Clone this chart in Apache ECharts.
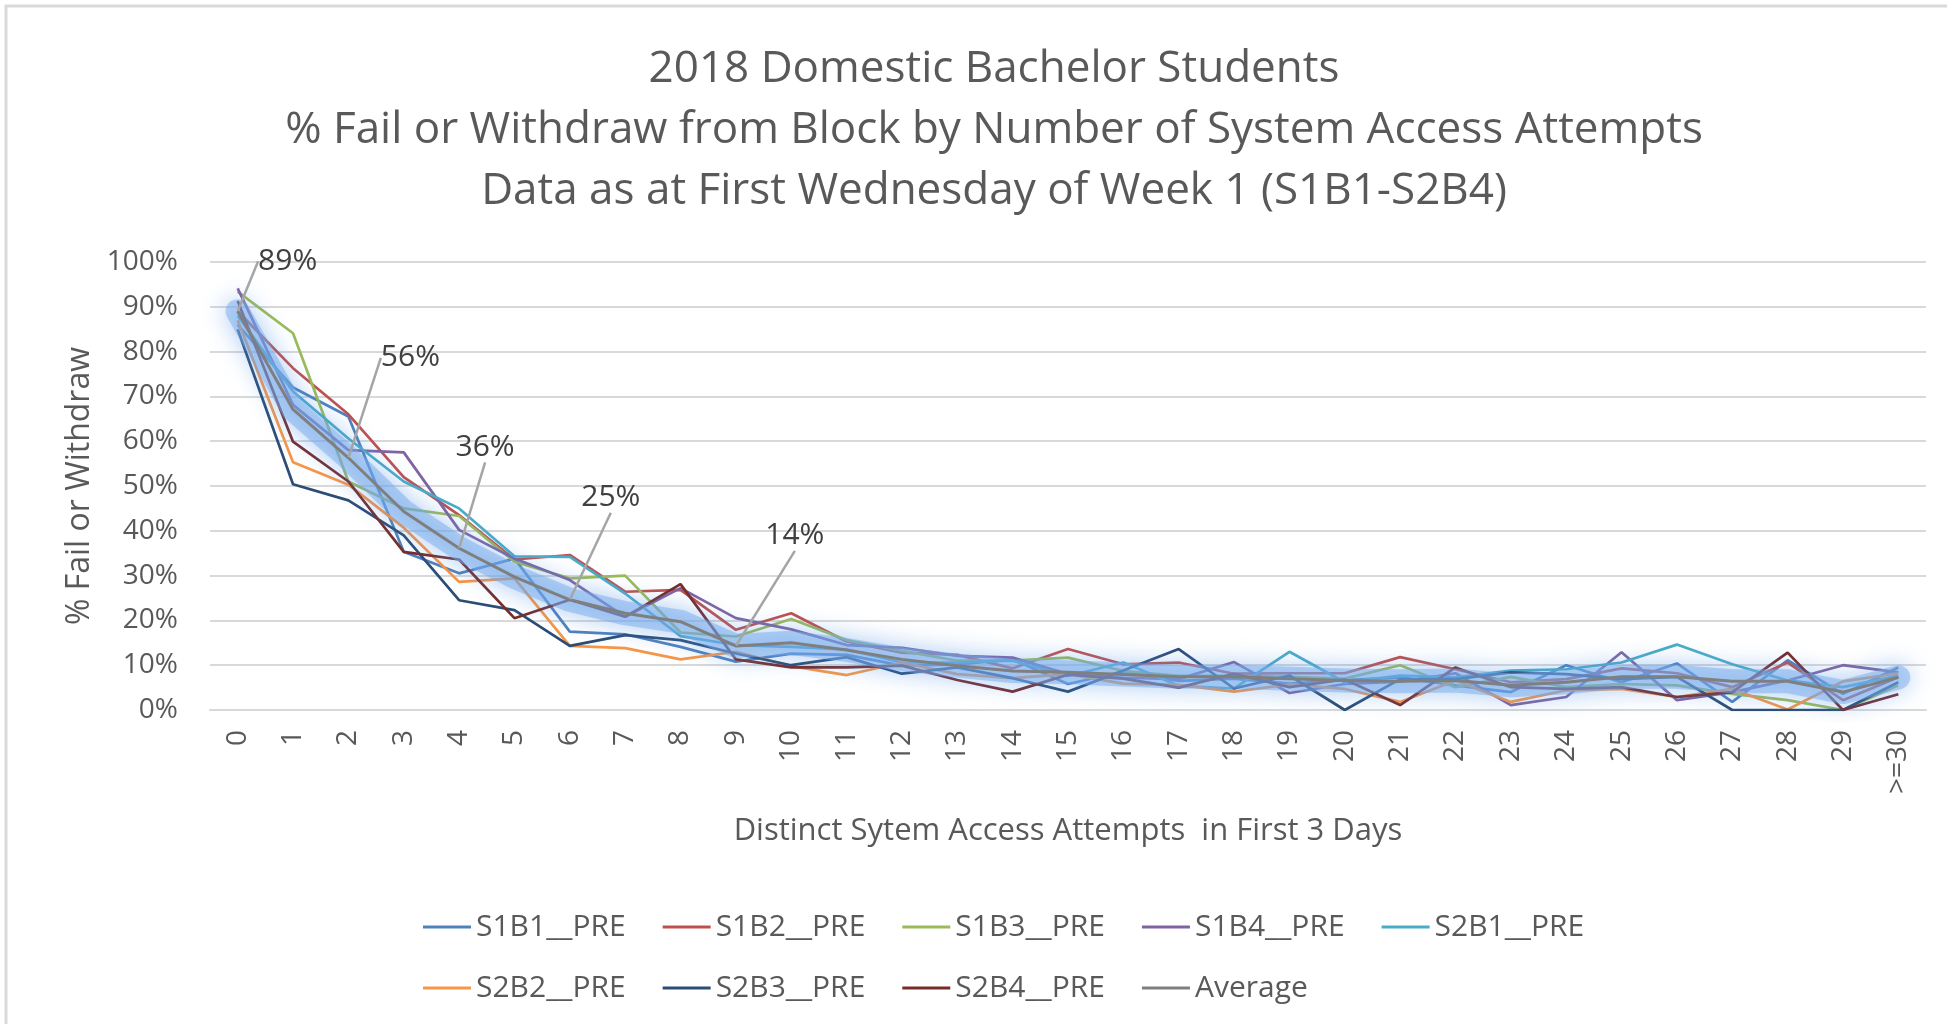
<!DOCTYPE html>
<html>
<head>
<meta charset="utf-8">
<script src="https://cdn.jsdelivr.net/npm/echarts@6/dist/echarts.min.js"></script>
<style>
  html, body { margin: 0; padding: 0; background: #fff; }
  #chart { width: 1947px; height: 1024px; }
</style>
</head>
<body>
<div id="chart"></div>
<script>
// Datos del gráfico
const categorias = ['0','1','2','3','4','5','6','7','8','9','10','11','12','13','14','15',
  '16','17','18','19','20','21','22','23','24','25','26','27','28','29','>=30'];
const yTicks = [0, 10, 20, 30, 40, 50, 60, 70, 80, 90, 100];

const s1b1 = [86, 72, 65.5, 35.3, 30.5, 33.8, 17.5, 16.9, 14.1, 10.8, 12.6, 12.3, 9.9, 10.2, 11.3, 5.8, 8.6, 6.5, 7.0, 5.9, 6.7, 7.3, 5.5, 4.0, 10.0, 6.2, 10.4, 1.8, 11.1, 3.6, 9.5];
const s1b2 = [89, 76.3, 66, 52, 43.5, 33.6, 34.6, 26.4, 26.8, 17.9, 21.6, 15.3, 12.8, 12.3, 9.3, 13.6, 10.2, 10.6, 8.1, 8.2, 8.2, 11.8, 9.1, 6.2, 6.9, 9.3, 8.2, 5.1, 10.6, 2.2, 7.3];
const s1b3 = [93.4, 84.1, 51, 45, 43.3, 33.1, 29.4, 30, 17.3, 16.4, 20.3, 15.6, 13.2, 11, 11, 11.7, 8.7, 7.6, 7.6, 7.4, 7.0, 10.0, 5.1, 7.4, 5.1, 5.8, 5.5, 3.6, 2.2, 0, 5.5];
const s1b4 = [94.1, 68.1, 58, 57.5, 40.2, 33.8, 29, 20.8, 27.2, 20.5, 18, 14.5, 13.9, 12.1, 11.7, 8.0, 7.2, 6.9, 10.7, 3.8, 5.8, 6.3, 8.2, 1.1, 2.9, 12.9, 2.2, 4.0, 6.6, 10.0, 8.4];
const s2b1 = [88, 71.1, 60.6, 51, 45, 34.3, 34.2, 26, 16.5, 14.5, 14.1, 13.5, 10.6, 10.6, 11.0, 7.6, 10.6, 5.4, 4.8, 13.0, 6.2, 7.7, 7.3, 8.8, 9.1, 10.6, 14.6, 10.2, 6.6, 5.1, 7.7];
const s2b2 = [87, 55.3, 50.3, 40.7, 28.6, 29.4, 14.3, 13.8, 11.3, 13.0, 9.8, 7.8, 10.6, 8.0, 7.1, 8.0, 5.9, 5.6, 4.1, 5.7, 4.7, 1.8, 6.6, 1.8, 4.4, 4.7, 2.9, 4.7, 0.1, 6.4, 8.2];
const s2b3 = [85, 50.4, 46.8, 39, 24.5, 22.3, 14.3, 16.7, 15.6, 12.6, 10.0, 11.8, 8.1, 9.5, 7.1, 4.1, 8.8, 13.6, 4.8, 7.7, 0, 6.9, 6.9, 8.4, 8.0, 6.9, 7.4, 0, 0, 0, 6.2];
const s2b4 = [91.3, 59.9, 51, 35.3, 33.6, 20.5, 24.6, 20.8, 28.1, 11.3, 9.5, 9.5, 9.9, 6.7, 4.1, 7.9, 7.0, 5.0, 8.1, 5.1, 6.8, 1.1, 9.5, 5.1, 4.7, 5.1, 2.9, 4.0, 12.8, 0, 3.5];
const promedio = [89, 67.1, 56.3, 44.3, 36.1, 29.7, 24.6, 21.6, 19.7, 14.3, 15.0, 13.4, 11.3, 9.9, 8.7, 8.4, 7.9, 7.4, 7.4, 7.0, 6.6, 6.4, 6.6, 5.5, 6.2, 7.4, 7.4, 6.4, 6.4, 4.0, 7.3];

const nombres = ['S1B1__PRE', 'S1B2__PRE', 'S1B3__PRE', 'S1B4__PRE', 'S2B1__PRE',
  'S2B2__PRE', 'S2B3__PRE', 'S2B4__PRE', 'Average'];
const colores = ['#4F81BD', '#C0504D', '#9BBB59', '#8064A2', '#4BACC6',
  '#F79646', '#2C4D75', '#772C2A', '#7F7F7F'];
const etiquetados = [0, 2, 4, 6, 9];

const font = '"Open Sans", "Liberation Sans", sans-serif';
const texto = '#595959';

// desplazamiento de las etiquetas del promedio
const desp = { 0: [50, -50], 2: [62, -100], 4: [26, -101], 6: [41, -102], 9: [59, -110] };

const series = [s1b1, s1b2, s1b3, s1b4, s2b1, s2b2, s2b3, s2b4].map((d, i) => ({
  name: nombres[i],
  type: 'line',
  data: d,
  showSymbol: false,
  color: colores[i],
  lineStyle: { width: 2.7, color: colores[i] },
  z: 2
}));

// brillo azul del promedio
series.push({
  name: 'glow',
  type: 'line',
  data: promedio,
  showSymbol: false,
  silent: true,
  lineStyle: {
    width: 24,
    color: 'rgba(120,172,235,0.5)',
    shadowBlur: 24,
    shadowColor: 'rgba(80,145,230,0.95)',
    cap: 'round',
    join: 'round'
  },
  z: 3
});

series.push({
  name: 'Average',
  type: 'line',
  color: colores[8],
  data: promedio.map((v, i) => etiquetados.includes(i)
    ? { value: v, label: { show: true } }
    : { value: v }),
  symbol: 'circle',
  symbolSize: 1,
  showSymbol: true,
  lineStyle: { width: 3, color: colores[8] },
  itemStyle: { color: colores[8] },
  label: {
    show: false,
    position: 'inside',
    fontFamily: font,
    fontSize: 30,
    color: '#404040',
    formatter: p => Math.round(p.value) + '%'
  },
  labelLine: { show: true, lineStyle: { color: '#A5A5A5', width: 2.5 } },
  labelLayout: p => {
    const o = desp[p.dataIndex];
    return o ? { dx: o[0], dy: o[1] } : {};
  },
  z: 4
});

// leyenda en dos filas
const leyenda = (datos, top) => ({
  data: datos,
  left: 418,
  top: top,
  icon: 'rect',
  itemWidth: 48,
  itemHeight: 3,
  itemGap: 37,
  textStyle: { fontFamily: font, fontSize: 30, color: texto }
});

const opciones = {
  animation: false,
  backgroundColor: '#fff',
  title: {
    text: '2018 Domestic Bachelor Students\n% Fail or Withdraw from Block by Number of System Access Attempts\nData as at First Wednesday of Week 1 (S1B1-S2B4)',
    left: 989,
    top: 34,
    textAlign: 'center',
    textStyle: {
      fontFamily: font,
      fontSize: 44,
      fontWeight: 'normal',
      color: texto,
      lineHeight: 61
    }
  },
  legend: [leyenda(nombres.slice(0, 5), 907), leyenda(nombres.slice(5), 968)],
  grid: { left: 210, right: 21, top: 262, bottom: 314 },
  xAxis: {
    type: 'category',
    data: categorias,
    boundaryGap: true,
    name: 'Distinct Sytem Access Attempts  in First 3 Days',
    nameLocation: 'middle',
    nameGap: 106,
    nameTextStyle: { fontFamily: font, fontSize: 31, color: texto },
    axisLine: { lineStyle: { color: '#D9D9D9', width: 2 } },
    axisTick: { show: false },
    axisLabel: { rotate: 90, margin: 20, fontFamily: font, fontSize: 28, color: texto }
  },
  yAxis: {
    type: 'value',
    min: yTicks[0],
    max: yTicks[yTicks.length - 1],
    interval: 10,
    name: '% Fail or Withdraw',
    nameLocation: 'middle',
    nameGap: 113,
    nameTextStyle: { fontFamily: font, fontSize: 32, color: texto },
    axisLine: { show: false },
    axisTick: { show: false },
    axisLabel: { margin: 32, fontFamily: font, fontSize: 28, color: texto, formatter: '{value}%' },
    splitLine: { lineStyle: { color: '#D9D9D9', width: 2 } }
  },
  graphic: [{
    type: 'rect',
    shape: { x: 6, y: 6, width: 1960, height: 1040 },
    style: { fill: 'none', stroke: '#D9D9D9', lineWidth: 3 },
    silent: true
  }],
  series: series
};

const container = document.getElementById('chart');
const miGrafico = echarts.init(container);
miGrafico.setOption(opciones);
</script>
</body>
</html>
